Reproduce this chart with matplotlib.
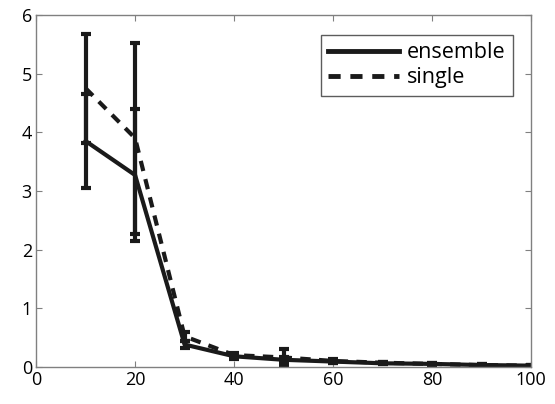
import numpy as np
import matplotlib.pyplot as plt
from matplotlib.lines import Line2D

plt.rcParams['font.family'] = ['Open Sans', 'DejaVu Sans']

# data
x = [10, 20, 30, 40, 50, 60, 70, 80, 90, 100]
ensemble = [3.85, 3.27, 0.38, 0.18, 0.12, 0.09, 0.06, 0.05, 0.03, 0.02]
ensemble_err = [0.80, 1.12, 0.06, 0.04, 0.05, 0.03, 0.02, 0.02, 0.01, 0.01]
single = [4.75, 3.90, 0.52, 0.20, 0.16, 0.10, 0.07, 0.05, 0.03, 0.02]
single_err = [0.93, 1.63, 0.08, 0.04, 0.14, 0.03, 0.02, 0.02, 0.01, 0.01]

dash = (0, (2.5, 2))
col = '#1a1a1a'

fig = plt.figure(figsize=(5.55, 4.04), dpi=100)
ax = fig.add_axes([0.065, 0.092, 0.892, 0.871])

ax.errorbar(x, ensemble, yerr=ensemble_err, color=col, lw=3,
            elinewidth=3, capsize=3.5, capthick=3)
ax.errorbar(x, single, yerr=single_err, color=col, lw=3, ls=dash,
            elinewidth=3, capsize=3.5, capthick=3)

ax.set_xlim(0, 100)
ax.set_ylim(0, 6)
ax.set_xticks(range(0, 101, 20))
ax.set_yticks(range(0, 7))
ax.tick_params(direction='in', length=4, color='#808080', labelsize=13,
               top=True, right=True, pad=3)
for s in ax.spines.values():
    s.set_color('#808080')
    s.set_linewidth(1)

handles = [Line2D([], [], color=col, lw=3.5),
           Line2D([], [], color=col, lw=3.5, ls=dash)]
leg = ax.legend(handles, ['ensemble', 'single'], loc='upper right', fontsize=15.5,
                frameon=True, fancybox=False, handlelength=3.3, handletextpad=0.35,
                borderpad=0.35, labelspacing=0.2, bbox_to_anchor=(0.985, 0.975))
leg.get_frame().set_edgecolor('#333333')
leg.get_frame().set_linewidth(1)

fig.savefig('out.png', dpi=100)
